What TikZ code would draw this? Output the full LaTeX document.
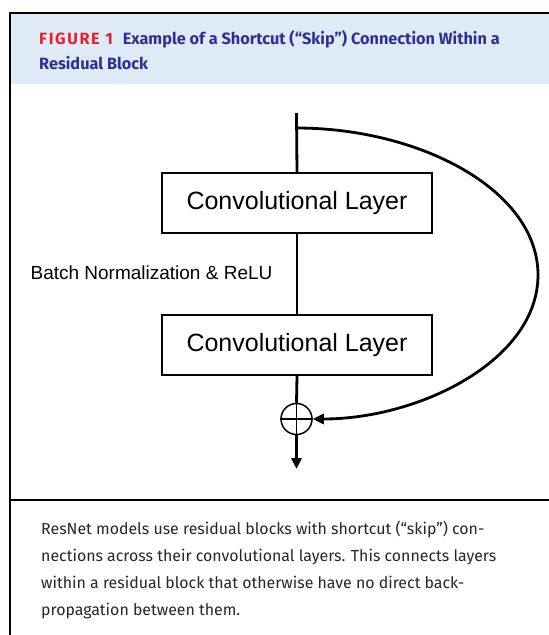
\documentclass[tikz,border=0pt]{standalone}
\usepackage{fontspec}
\setmainfont{Fira Sans}
\newfontfamily\diagfont{Liberation Sans}
\newfontfamily\figlabelfont[LetterSpace=10]{Fira Sans}
\usetikzlibrary{arrows.meta}
\definecolor{bandblue}{HTML}{DEEAF6}
\definecolor{titleblue}{HTML}{2E3192}
\definecolor{figred}{HTML}{E8202A}
\tikzset{
  frameline/.style={line width=2pt, draw=black},
  layerbox/.style={draw=black, line width=1.5pt, minimum width=270pt, minimum height=60pt, inner sep=0pt, font=\diagfont\fontsize{25}{30}\selectfont},
  flow/.style={line width=2.8pt, draw=black},
  sumnode/.style={circle, draw=black, line width=1.5pt, minimum size=31pt, inner sep=0pt},
  titletext/.style={anchor=base west, inner sep=0pt, font=\bfseries\fontsize{16.3}{19}\selectfont, text=titleblue},
  captext/.style={anchor=base west, inner sep=0pt, font=\fontsize{15.9}{19}\selectfont, text=black!85},
  tip/.style={-{Triangle[length=11pt,width=10pt]}}
}
\begin{document}
\begin{tikzpicture}[x=1pt,y=-1pt]
\useasboundingbox (0,0) rectangle (549,635);
\clip (0,0) rectangle (549,635);
% frame and header band
\fill[bandblue] (10,13) rectangle (570,84);
\draw[frameline] (570,13) -- (10,13) -- (10,660);
\draw[frameline] (10,500) -- (570,500);
% title
\node[titletext] (title1) at (39,44) {{\figlabelfont\color{figred}FIGURE 1}\hspace{10pt}Example of a Shortcut (“Skip”) Connection Within a};
\node[titletext] (title2) at (39,69) {Residual Block};
% diagram
\coordinate (top) at (296.5,113);
\coordinate (skipstart) at (296.5,128);
\node[layerbox] (box1) at (297,203) {Convolutional Layer};
\node[layerbox] (box2) at (297,345) {Convolutional Layer};
\node[inner sep=0pt, font=\diagfont\fontsize{19}{22}\selectfont] (bn) at (151.5,273) {Batch Normalization \& ReLU};
\node[sumnode] (plus) at (296.5,419) {};
\draw[line width=1.5pt] (plus.west) -- (plus.east);
\draw[line width=1.5pt] (plus.north) -- (plus.south);
\coordinate (out) at (296.5,469);
\draw[flow] (top) -- (box1.north);
\draw[flow] (box1.south) -- (box2.north);
\draw[flow] (box2.south) -- (plus.north);
\draw[flow, tip] (plus.south) -- (out);
\draw[flow, tip] (skipstart) .. controls (420,128) and (538,190) .. (538,275)
  .. controls (538,360) and (420,419) .. (plus.east);
% caption
\node[captext] (cap1) at (41,534) {ResNet models use residual blocks with shortcut (“skip”) con-};
\node[captext] (cap2) at (41,561) {nections across their convolutional layers. This connects layers};
\node[captext] (cap3) at (41,588) {within a residual block that otherwise have no direct back-};
\node[captext] (cap4) at (41,615) {propagation between them.};
\end{tikzpicture}
\end{document}
